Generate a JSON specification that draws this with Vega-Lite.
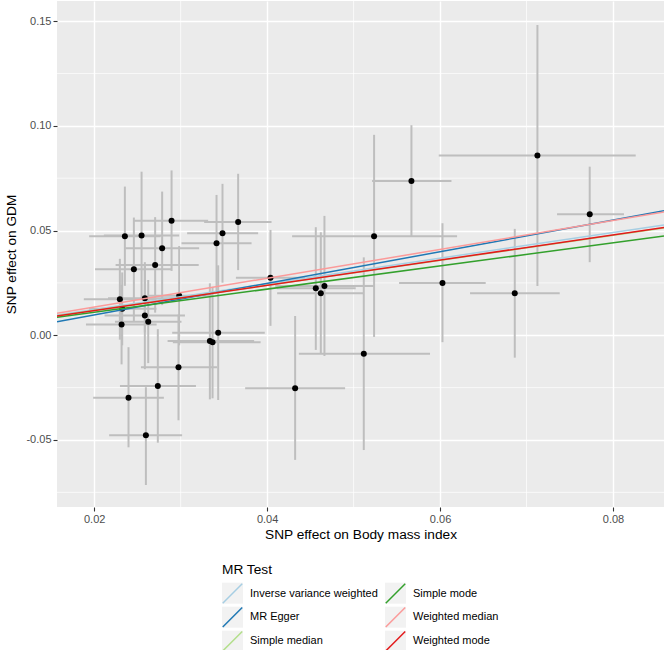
{
  "$schema": "https://vega.github.io/schema/vega-lite/v6.json",
  "width": 607,
  "height": 506,
  "autosize": "none",
  "padding": {"left": 57, "top": 1, "right": 2, "bottom": 143},
  "background": "white",
  "config": {
    "font": "Liberation Sans",
    "view": {"fill": "#EBEBEB", "stroke": null},
    "axis": {
      "domain": false,
      "grid": true,
      "gridColor": "white",
      "gridWidth": 1.4,
      "tickColor": "#333333",
      "tickWidth": 1.1,
      "tickSize": 4,
      "labelColor": "#4D4D4D",
      "labelFontSize": 11,
      "labelFont": "Liberation Sans",
      "titleFont": "Liberation Sans",
      "titleFontSize": 13.7,
      "titleFontWeight": "normal",
      "titleColor": "black"
    },
    "legend": {
      "labelFont": "Liberation Sans",
      "titleFont": "Liberation Sans",
      "orient": "none",
      "legendX": 165,
      "legendY": 562,
      "columns": 2,
      "labelFontSize": 11,
      "labelColor": "black",
      "labelOffset": 7,
      "titleFontSize": 13.7,
      "titleFontWeight": "normal",
      "titleColor": "black",
      "titlePadding": 6
    }
  },
  "datasets": {
    "snps": [
      {"bmi": 0.02355, "gdm": 0.0473, "bmi_lo": 0.01942, "bmi_hi": 0.02768, "gdm_lo": 0.0236, "gdm_hi": 0.0710},
      {"bmi": 0.02548, "gdm": 0.0476, "bmi_lo": 0.02112, "bmi_hi": 0.02983, "gdm_lo": 0.0170, "gdm_hi": 0.0781},
      {"bmi": 0.02895, "gdm": 0.0547, "bmi_lo": 0.02451, "bmi_hi": 0.03318, "gdm_lo": 0.0307, "gdm_hi": 0.0787},
      {"bmi": 0.03665, "gdm": 0.0541, "bmi_lo": 0.03272, "bmi_hi": 0.04051, "gdm_lo": 0.0311, "gdm_hi": 0.0771},
      {"bmi": 0.03484, "gdm": 0.0487, "bmi_lo": 0.03075, "bmi_hi": 0.03896, "gdm_lo": 0.0251, "gdm_hi": 0.0723},
      {"bmi": 0.03415, "gdm": 0.0439, "bmi_lo": 0.03010, "bmi_hi": 0.03820, "gdm_lo": 0.0208, "gdm_hi": 0.0670},
      {"bmi": 0.02786, "gdm": 0.0415, "bmi_lo": 0.02360, "bmi_hi": 0.03214, "gdm_lo": 0.0144, "gdm_hi": 0.0686},
      {"bmi": 0.02705, "gdm": 0.0336, "bmi_lo": 0.02248, "bmi_hi": 0.03209, "gdm_lo": 0.0108, "gdm_hi": 0.0564},
      {"bmi": 0.02459, "gdm": 0.0315, "bmi_lo": 0.02010, "bmi_hi": 0.02895, "gdm_lo": 0.0068, "gdm_hi": 0.0562},
      {"bmi": 0.04039, "gdm": 0.0275, "bmi_lo": 0.03639, "bmi_hi": 0.04439, "gdm_lo": 0.0045, "gdm_hi": 0.0503},
      {"bmi": 0.02297, "gdm": 0.0172, "bmi_lo": 0.01880, "bmi_hi": 0.02722, "gdm_lo": -0.0021, "gdm_hi": 0.0365},
      {"bmi": 0.02586, "gdm": 0.0177, "bmi_lo": 0.02160, "bmi_hi": 0.03015, "gdm_lo": 0.0014, "gdm_hi": 0.0340},
      {"bmi": 0.02983, "gdm": 0.0189, "bmi_lo": 0.02623, "bmi_hi": 0.03363, "gdm_lo": -0.0048, "gdm_hi": 0.0426},
      {"bmi": 0.02586, "gdm": 0.0094, "bmi_lo": 0.02120, "bmi_hi": 0.03050, "gdm_lo": -0.0162, "gdm_hi": 0.0349},
      {"bmi": 0.02625, "gdm": 0.0065, "bmi_lo": 0.02240, "bmi_hi": 0.03010, "gdm_lo": -0.0133, "gdm_hi": 0.0264},
      {"bmi": 0.02317, "gdm": 0.0051, "bmi_lo": 0.01905, "bmi_hi": 0.02722, "gdm_lo": -0.0139, "gdm_hi": 0.0241},
      {"bmi": 0.03434, "gdm": 0.0012, "bmi_lo": 0.02902, "bmi_hi": 0.03973, "gdm_lo": -0.0309, "gdm_hi": 0.0334},
      {"bmi": 0.03338, "gdm": -0.0027, "bmi_lo": 0.02849, "bmi_hi": 0.03850, "gdm_lo": -0.0306, "gdm_hi": 0.0248},
      {"bmi": 0.03369, "gdm": -0.0033, "bmi_lo": 0.02910, "bmi_hi": 0.03925, "gdm_lo": -0.0301, "gdm_hi": 0.0231},
      {"bmi": 0.02975, "gdm": -0.0153, "bmi_lo": 0.02541, "bmi_hi": 0.03421, "gdm_lo": -0.0406, "gdm_hi": 0.0099},
      {"bmi": 0.02736, "gdm": -0.0242, "bmi_lo": 0.02298, "bmi_hi": 0.03177, "gdm_lo": -0.0513, "gdm_hi": 0.0029},
      {"bmi": 0.02397, "gdm": -0.0298, "bmi_lo": 0.01988, "bmi_hi": 0.02806, "gdm_lo": -0.0535, "gdm_hi": -0.0057},
      {"bmi": 0.02598, "gdm": -0.0478, "bmi_lo": 0.02173, "bmi_hi": 0.03017, "gdm_lo": -0.0715, "gdm_hi": -0.0248},
      {"bmi": 0.05669, "gdm": 0.0737, "bmi_lo": 0.05214, "bmi_hi": 0.06132, "gdm_lo": 0.0474, "gdm_hi": 0.1003},
      {"bmi": 0.05237, "gdm": 0.0473, "bmi_lo": 0.04289, "bmi_hi": 0.06197, "gdm_lo": -0.0008, "gdm_hi": 0.0957},
      {"bmi": 0.04563, "gdm": 0.0224, "bmi_lo": 0.04112, "bmi_hi": 0.05025, "gdm_lo": -0.0070, "gdm_hi": 0.0516},
      {"bmi": 0.04663, "gdm": 0.0235, "bmi_lo": 0.04094, "bmi_hi": 0.05236, "gdm_lo": -0.0099, "gdm_hi": 0.0570},
      {"bmi": 0.04621, "gdm": 0.0201, "bmi_lo": 0.04116, "bmi_hi": 0.05118, "gdm_lo": -0.0086, "gdm_hi": 0.0492},
      {"bmi": 0.06028, "gdm": 0.0250, "bmi_lo": 0.05526, "bmi_hi": 0.06528, "gdm_lo": -0.0033, "gdm_hi": 0.0535},
      {"bmi": 0.05118, "gdm": -0.0088, "bmi_lo": 0.04367, "bmi_hi": 0.05884, "gdm_lo": -0.0548, "gdm_hi": 0.0372},
      {"bmi": 0.04324, "gdm": -0.0253, "bmi_lo": 0.03746, "bmi_hi": 0.04902, "gdm_lo": -0.0595, "gdm_hi": 0.0092},
      {"bmi": 0.07126, "gdm": 0.0858, "bmi_lo": 0.05985, "bmi_hi": 0.08263, "gdm_lo": 0.0235, "gdm_hi": 0.1482},
      {"bmi": 0.07731, "gdm": 0.0578, "bmi_lo": 0.07353, "bmi_hi": 0.08127, "gdm_lo": 0.0349, "gdm_hi": 0.0805},
      {"bmi": 0.06864, "gdm": 0.0201, "bmi_lo": 0.06347, "bmi_hi": 0.07384, "gdm_lo": -0.0107, "gdm_hi": 0.0508},
      {"bmi": 0.02324, "gdm": 0.0126, "bmi_lo": 0.01940, "bmi_hi": 0.02720, "gdm_lo": -0.0048, "gdm_hi": 0.0300}
    ],
    "fits": [
      {"method": "Inverse variance weighted", "bmi": 0.0157, "gdm": 0.00964},
      {"method": "Inverse variance weighted", "bmi": 0.0859, "gdm": 0.0527},
      {"method": "MR Egger", "bmi": 0.0157, "gdm": 0.0065},
      {"method": "MR Egger", "bmi": 0.0859, "gdm": 0.0594},
      {"method": "Simple median", "bmi": 0.0157, "gdm": 0.00937},
      {"method": "Simple median", "bmi": 0.0859, "gdm": 0.0512},
      {"method": "Simple mode", "bmi": 0.0157, "gdm": 0.0086},
      {"method": "Simple mode", "bmi": 0.0859, "gdm": 0.0474},
      {"method": "Weighted median", "bmi": 0.0157, "gdm": 0.0105},
      {"method": "Weighted median", "bmi": 0.0859, "gdm": 0.0588},
      {"method": "Weighted mode", "bmi": 0.0157, "gdm": 0.0092},
      {"method": "Weighted mode", "bmi": 0.0859, "gdm": 0.0515}
    ],
    "minor_x": [{"v": 0.03}, {"v": 0.05}, {"v": 0.07}],
    "minor_y": [{"v": -0.075}, {"v": -0.025}, {"v": 0.025}, {"v": 0.075}, {"v": 0.125}]
  },
  "encoding": {
    "x": {
      "type": "quantitative",
      "scale": {"domain": [0.0157, 0.0859], "nice": false, "zero": false},
      "axis": {
        "title": "SNP effect on Body mass index",
        "values": [0.02, 0.04, 0.06, 0.08],
        "format": ".2f",
        "labelPadding": 2,
        "titlePadding": 3
      }
    },
    "y": {
      "type": "quantitative",
      "scale": {"domain": [-0.082, 0.1596], "nice": false, "zero": false},
      "axis": {
        "title": "SNP effect on GDM",
        "values": [-0.05, 0, 0.05, 0.1, 0.15],
        "labelExpr": "replace(format(datum.value, '.2f'), '\u2212', '-')",
        "labelPadding": 2,
        "titlePadding": 7
      }
    }
  },
  "layer": [
    {
      "data": {"name": "minor_x"},
      "mark": {"type": "rule", "color": "white", "strokeWidth": 0.7},
      "encoding": {"x": {"field": "v", "type": "quantitative"}}
    },
    {
      "data": {"name": "minor_y"},
      "mark": {"type": "rule", "color": "white", "strokeWidth": 0.7},
      "encoding": {"y": {"field": "v", "type": "quantitative"}}
    },
    {
      "data": {"name": "snps"},
      "mark": {"type": "rule", "color": "#BEBEBE", "strokeWidth": 2},
      "encoding": {
        "x": {"field": "bmi", "type": "quantitative"},
        "y": {"field": "gdm_lo", "type": "quantitative"},
        "y2": {"field": "gdm_hi"}
      }
    },
    {
      "data": {"name": "snps"},
      "mark": {"type": "rule", "color": "#BEBEBE", "strokeWidth": 2},
      "encoding": {
        "y": {"field": "gdm", "type": "quantitative"},
        "x": {"field": "bmi_lo", "type": "quantitative"},
        "x2": {"field": "bmi_hi"}
      }
    },
    {
      "data": {"name": "snps"},
      "mark": {"type": "circle", "color": "black", "opacity": 1, "size": 36},
      "encoding": {
        "x": {"field": "bmi", "type": "quantitative"},
        "y": {"field": "gdm", "type": "quantitative"}
      }
    },
    {
      "data": {"name": "fits"},
      "transform": [{"filter": "false"}],
      "mark": {"type": "square"},
      "encoding": {
        "x": {"field": "bmi", "type": "quantitative"},
        "y": {"field": "gdm", "type": "quantitative"},
        "fill": {
          "field": "method",
          "type": "nominal",
          "scale": {
            "domain": ["k1", "k2", "k3", "k4", "k5", "k6"],
            "range": ["#F2F2F2", "#F2F2F2", "#F2F2F2", "#F2F2F2", "#F2F2F2", "#F2F2F2"]
          },
          "legend": {
            "title": "MR Test",
            "labelExpr": "{'k1': 'Inverse variance weighted', 'k2': 'MR Egger', 'k3': 'Simple median', 'k4': 'Simple mode', 'k5': 'Weighted median', 'k6': 'Weighted mode'}[datum.label]",
            "labelOpacity": 0,
            "titleOpacity": 0,
            "symbolType": "square",
            "symbolSize": 441,
            "symbolOpacity": 1,
            "symbolStrokeWidth": 0,
            "rowPadding": 3,
            "columnPadding": 7
          }
        }
      }
    },
    {
      "data": {"name": "fits"},
      "mark": {"type": "line", "strokeWidth": 1.5, "clip": true},
      "encoding": {
        "x": {"field": "bmi", "type": "quantitative"},
        "y": {"field": "gdm", "type": "quantitative"},
        "stroke": {
          "field": "method",
          "type": "nominal",
          "scale": {
            "domain": ["Inverse variance weighted", "MR Egger", "Simple median", "Simple mode", "Weighted median", "Weighted mode"],
            "range": ["#A6CEE3", "#1F78B4", "#B2DF8A", "#33A02C", "#FB9A99", "#E31A1C"]
          },
          "legend": {
            "title": "MR Test",
            "symbolType": "M-1,1L1,-1",
            "symbolSize": 380,
            "symbolStrokeWidth": 1.5,
            "rowPadding": -3,
            "columnPadding": 4
          }
        }
      }
    }
  ]
}
